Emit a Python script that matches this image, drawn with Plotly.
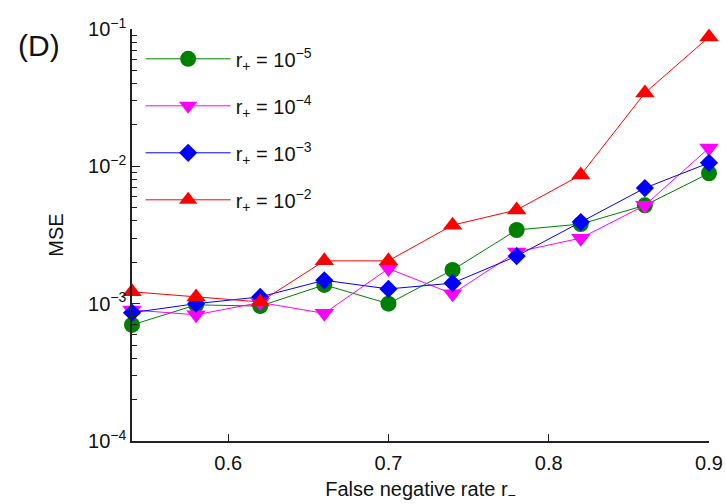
import plotly.graph_objects as go

x_rate = [0.54, 0.58, 0.62, 0.66, 0.70, 0.74, 0.78, 0.82, 0.86, 0.90]

mse_r5 = [7.0e-4, 9.8e-4, 9.6e-4, 1.37e-3, 1.0e-3, 1.76e-3, 3.44e-3, 3.8e-3, 5.2e-3, 8.9e-3]
mse_r4 = [9.0e-4, 8.3e-4, 1.02e-3, 8.5e-4, 1.8e-3, 1.18e-3, 2.38e-3, 3.0e-3, 5.2e-3, 1.36e-2]
mse_r3 = [8.6e-4, 1.0e-3, 1.12e-3, 1.48e-3, 1.28e-3, 1.41e-3, 2.22e-3, 3.93e-3, 6.95e-3, 1.06e-2]
mse_r2 = [1.22e-3, 1.12e-3, 1.03e-3, 2.05e-3, 2.05e-3, 3.73e-3, 4.81e-3, 8.65e-3, 3.42e-2, 8.75e-2]

series_names = [
    "r<sub>+</sub> = 10<sup>−5</sup>",
    "r<sub>+</sub> = 10<sup>−4</sup>",
    "r<sub>+</sub> = 10<sup>−3</sup>",
    "r<sub>+</sub> = 10<sup>−2</sup>",
]
series_values = [mse_r5, mse_r4, mse_r3, mse_r2]
series_colors = ["#008000", "#ff00ff", "#0000ff", "#ff0000"]
series_symbols = ["circle", "triangle-down", "diamond", "triangle-up"]
series_sizes = [16, 17, 14, 17]

x_tick_vals = [0.6, 0.7, 0.8, 0.9]
x_tick_text = ["0.6", "0.7", "0.8", "0.9"]
y_tick_vals = [1e-4, 1e-3, 1e-2, 1e-1]
y_tick_text = ["10<sup>−4</sup>", "10<sup>−3</sup>", "10<sup>−2</sup>", "10<sup>−1</sup>"]
y_minor_vals = [m * 10.0 ** e for e in (-4, -3, -2) for m in range(2, 10)]

FONT = "Liberation Sans, Arial, sans-serif"

fig = go.Figure()
for i, (name, vals, col, sym, sz) in enumerate(
        zip(series_names, series_values, series_colors, series_symbols, series_sizes)):
    fig.add_trace(go.Scatter(
        x=x_rate, y=vals, name=name, mode="lines+markers",
        line=dict(color=col, width=1),
        marker=dict(color=col, symbol=sym, size=sz, line=dict(width=0)),
        legendgroup="g%d" % i,
        cliponaxis=False,
    ))

fig.update_layout(
    width=726, height=504,
    margin=dict(l=132, r=17, t=29, b=63),
    paper_bgcolor="white", plot_bgcolor="white",
    font=dict(family=FONT, size=20, color="#111111"),
    showlegend=True,
    legend=dict(
        x=0.015, y=0.975, xanchor="left", yanchor="top",
        bgcolor="rgba(0,0,0,0)", borderwidth=0,
        font=dict(size=20, color="#111111"),
        tracegroupgap=18, itemwidth=85,
    ),
    xaxis=dict(
        range=[0.54, 0.9], showgrid=False, zeroline=False, automargin=False,
        showline=True, linecolor="#222222", linewidth=1.5,
        ticks="inside", ticklen=7, tickwidth=1.2, tickcolor="#222222",
        tickvals=x_tick_vals, ticktext=x_tick_text,
        ticklabelstandoff=3,
        title=dict(text="False negative rate r<sub>−</sub>", font=dict(size=20), standoff=9),
    ),
    yaxis=dict(
        type="log", range=[-4, -1], showgrid=False, zeroline=False, automargin=False,
        showline=True, linecolor="#222222", linewidth=1.5,
        ticks="inside", ticklen=8, tickwidth=1.2, tickcolor="#222222",
        tickvals=y_tick_vals, ticktext=y_tick_text,
        minor=dict(ticks="inside", ticklen=5, tickwidth=1.2, tickcolor="#222222",
                   tickmode="array", tickvals=y_minor_vals, showgrid=False),
        title=dict(text="MSE", font=dict(size=20), standoff=19),
    ),
    annotations=[dict(
        text="(D)", xref="paper", yref="paper", x=-0.161, y=0.961,
        xanchor="center", yanchor="middle", showarrow=False,
        font=dict(size=30, family=FONT, color="#111111"),
    )],
)

fig.write_html("out.html")
